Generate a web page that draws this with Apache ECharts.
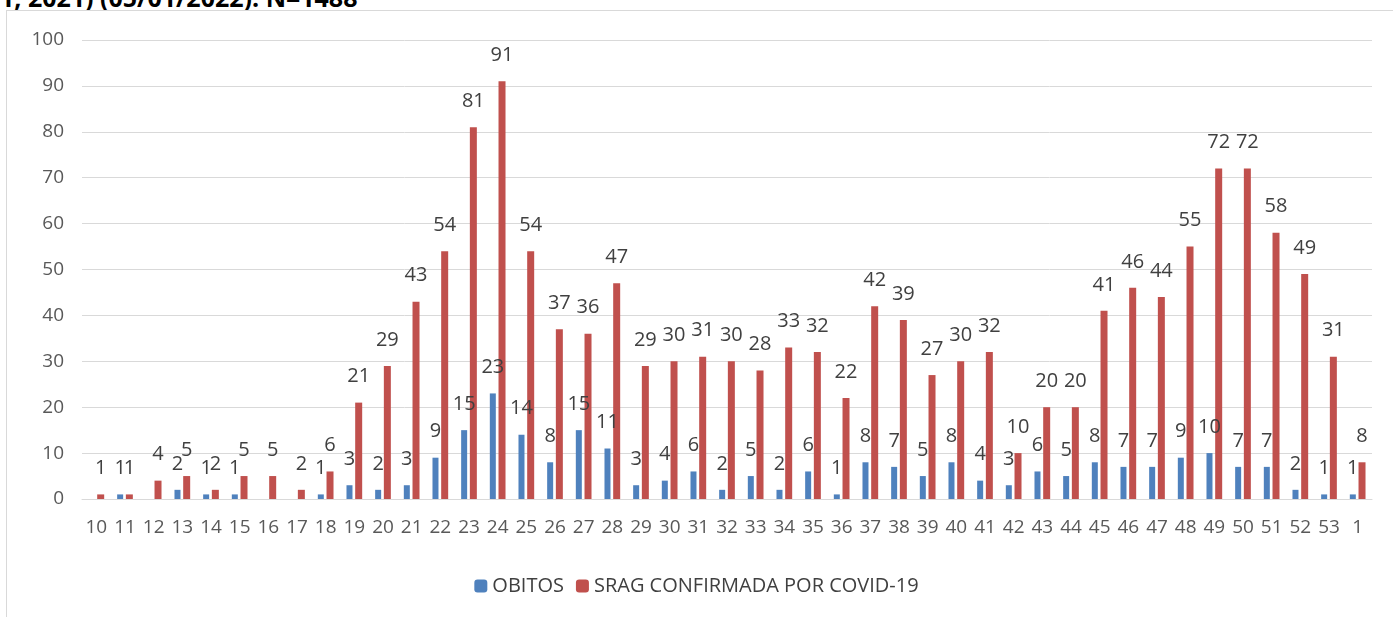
<!DOCTYPE html>
<html>
<head>
<meta charset="utf-8">
<title>SRAG</title>
<script src="https://cdn.jsdelivr.net/npm/echarts@6/dist/echarts.min.js"></script>
<style>
  html, body { margin: 0; padding: 0; background: #fff; }
  #top { position: absolute; left: 0; top: -20px; font: bold 25px "Open Sans", sans-serif; color: #000; white-space: nowrap; }
  #box { position: absolute; left: 6px; top: 10px; width: 1400px; height: 620px; border: 1px solid #d9d9d9; background: #fff; }
  #chart { position: absolute; left: 0; top: 0; width: 1393px; height: 617px; }
</style>
</head>
<body>
<div id="top">1, 2021) (05/01/2022). N=1488</div>
<div id="box"></div>
<div id="chart"></div>
<script>
// semanas epidemiologicas
let semanas = ["10","11","12","13","14","15","16","17","18","19","20","21","22","23","24","25","26","27","28","29","30","31","32","33","34","35","36","37","38","39","40","41","42","43","44","45","46","47","48","49","50","51","52","53","1"];
// obitos (null = sem barra)
let obitos = [null,1,null,2,1,1,null,null,1,3,2,3,9,15,23,14,8,15,11,3,4,6,2,5,2,6,1,8,7,5,8,4,3,6,5,8,7,7,9,10,7,7,2,1,1];
// srag confirmada
let srag = [1,1,4,5,2,5,5,2,6,21,29,43,54,81,91,54,37,36,47,29,30,31,30,28,33,32,22,42,39,27,30,32,10,20,20,41,46,44,55,72,72,58,49,31,8];
let yTicks = [0, 100, 10];

let myChart = echarts.init(document.getElementById("chart"));
let fonte = "Open Sans";
let lbl = { show: true, position: "top", distance: 16, fontSize: 20, color: "#404040", fontFamily: fonte };

let option = {
  animation: false,
  grid: { left: 82, right: 21, top: 40, bottom: 118 },
  legend: {
    bottom: 16, left: "center",
    itemWidth: 13, itemHeight: 13, itemGap: 12,
    textStyle: { fontSize: 20, color: "#404040", fontFamily: fonte },
    data: ["OBITOS", "SRAG CONFIRMADA POR COVID-19"]
  },
  xAxis: {
    type: "category",
    data: semanas,
    axisLine: { lineStyle: { color: "#d9d9d9" } },
    axisTick: { show: false },
    axisLabel: { fontSize: 19, color: "#595959", fontFamily: fonte, margin: 19, interval: 0 }
  },
  yAxis: {
    type: "value",
    min: yTicks[0], max: yTicks[1], interval: yTicks[2],
    axisLine: { show: false },
    axisTick: { show: false },
    splitLine: { lineStyle: { color: "#d9d9d9" } },
    axisLabel: { fontSize: 19, color: "#595959", fontFamily: fonte, margin: 18 }
  },
  series: [
    { name: "OBITOS", type: "bar", data: obitos, barWidth: 6, barGap: "45%",
      itemStyle: { color: "#4f81bd" }, label: lbl },
    { name: "SRAG CONFIRMADA POR COVID-19", type: "bar", data: srag, barWidth: 7,
      itemStyle: { color: "#c0504d" }, label: lbl }
  ]
};
myChart.setOption(option);
</script>
</body>
</html>
